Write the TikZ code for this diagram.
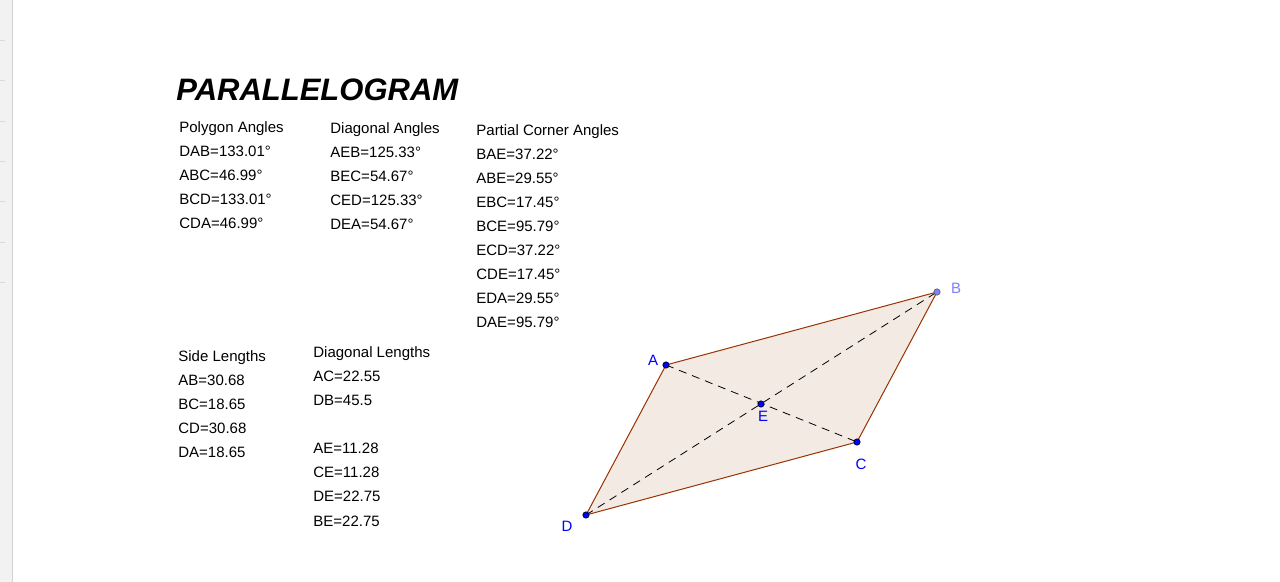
\documentclass[tikz,border=0pt]{standalone}
\usepackage{fontspec}
\setmainfont{Liberation Sans}
\begin{document}
\begin{tikzpicture}[x=0.5pt,y=-0.5pt,
  txt/.style={anchor=base west,inner sep=0pt,font=\fontsize{7.5}{9}\selectfont},
  pt/.style={circle,fill=blue,draw=black,line width=0.3pt,inner sep=0pt,minimum size=3.2pt},
  lbl/.style={text=blue,inner sep=0pt,font=\fontsize{7.5}{9}\selectfont},
  side/.style={draw={rgb,255:red,153;green,51;blue,0},line width=0.5pt},
  diag/.style={dashed,dash pattern=on 4pt off 3pt,line width=0.4pt}]
\useasboundingbox (0,0) rectangle (1280,582);
\fill[white] (0,0) rectangle (1280,582);
\fill[gray!10] (0,0) rectangle (12,582);
\draw[gray!35,line width=0.6pt] (12.5,0) -- (12.5,582);
\foreach \yy in {40,80,121,161,201,242,282} \draw[gray!30,line width=0.3pt] (0,\yy) -- (5,\yy);
\node[anchor=base west,inner sep=0pt,font=\fontsize{15.5}{18}\selectfont\bfseries\itshape] (title) at (176,101) {PARALLELOGRAM};
% columns
\foreach \t [count=\i from 0] in {Polygon Angles,DAB=133.01°,ABC=46.99°,BCD=133.01°,CDA=46.99°}
  \node[txt] (pa\i) at (179,133+24*\i) {\t};
\foreach \t [count=\i from 0] in {Diagonal Angles,AEB=125.33°,BEC=54.67°,CED=125.33°,DEA=54.67°}
  \node[txt] (da\i) at (330,134+24*\i) {\t};
\foreach \t [count=\i from 0] in {Partial Corner Angles,BAE=37.22°,ABE=29.55°,EBC=17.45°,BCE=95.79°,ECD=37.22°,CDE=17.45°,EDA=29.55°,DAE=95.79°}
  \node[txt] (pc\i) at (476,136+24*\i) {\t};
\foreach \t [count=\i from 0] in {Side Lengths,AB=30.68,BC=18.65,CD=30.68,DA=18.65}
  \node[txt] (sl\i) at (178,362+24*\i) {\t};
\foreach \t [count=\i from 0] in {Diagonal Lengths,AC=22.55,DB=45.5}
  \node[txt] (dl\i) at (313,358+24*\i) {\t};
\foreach \t [count=\i from 0] in {AE=11.28,CE=11.28,DE=22.75,BE=22.75}
  \node[txt] (pl\i) at (313,454+24*\i) {\t};
% figure
\coordinate (A) at (666,365);
\coordinate (B) at (937,292);
\coordinate (C) at (857,442);
\coordinate (D) at (586,515);
\fill[fill={rgb,255:red,244;green,234;blue,228}] (A) -- (B) -- (C) -- (D) -- cycle;
\draw[side] (A) -- (B) -- (C) -- (D) -- cycle;
\draw[diag] (A) -- (C);
\draw[diag] (D) -- (B);
\node[pt] (pA) at (A) {};
\node[pt,fill={rgb,255:red,128;green,128;blue,255},draw=gray!70!black] (pB) at (B) {};
\node[pt] (pC) at (C) {};
\node[pt] (pD) at (D) {};
\node[pt] (pE) at (761,404) {};
\node[lbl] (lA) at (653,360) {A};
\node[lbl,text={rgb,255:red,128;green,128;blue,255}] (lB) at (956,288) {B};
\node[lbl] (lC) at (861,464) {C};
\node[lbl] (lD) at (567,526) {D};
\node[lbl] (lE) at (763,416) {E};
\end{tikzpicture}
\end{document}
